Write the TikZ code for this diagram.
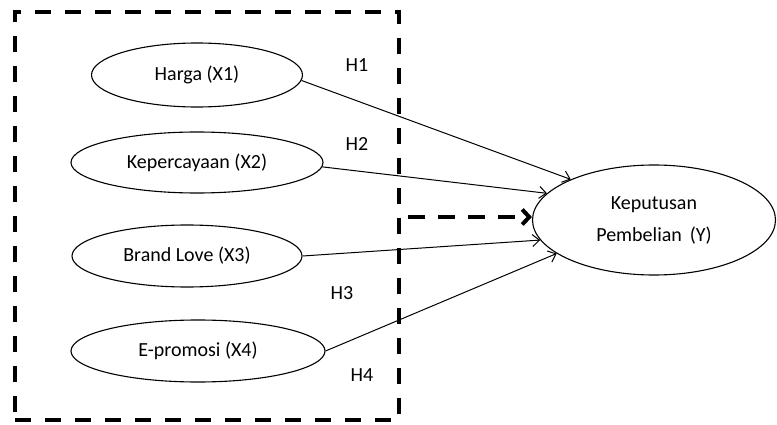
\documentclass[tikz,border=0pt]{standalone}
\usepackage{fontspec}
\setmainfont{Carlito}
\usetikzlibrary{arrows.meta,shapes.geometric}
\begin{document}
\begin{tikzpicture}[x=1pt,y=-1pt,
  var/.style={ellipse,draw,line width=1.1pt,inner sep=0pt,font=\fontsize{20}{23}\selectfont},
  hyp/.style={font=\fontsize{20}{23}\selectfont,inner sep=0pt},
  link/.style={line width=1pt,-{Straight Barb[length=7pt,width=12pt]}},
  bigdash/.style={line width=4.5pt,dash pattern=on 16pt off 14pt},
]
\useasboundingbox (0,0) rectangle (777,425);
\node[draw,bigdash,minimum width=384pt,minimum height=408pt,inner sep=0pt] (frame) at (207,216) {};
\node[var,minimum width=211pt,minimum height=64pt] (x1) at (197,75) {Harga (X1)};
\node[var,minimum width=252pt,minimum height=61pt] (x2) at (197,162.5) {Kepercayaan (X2)};
\node[var,minimum width=230pt,minimum height=62pt] (x3) at (187,256) {Brand Love (X3)};
\node[var,minimum width=254pt,minimum height=62pt] (x4) at (198,351) {E-promosi (X4)};
\node[var,minimum width=243pt,minimum height=110pt,align=center] (y) at (654,220) {Keputusan\\[9pt]Pembelian \,(Y)};
\node[hyp] (h1) at (357,65) {H1};
\node[hyp] (h2) at (357,144) {H2};
\node[hyp] (h3) at (342,293) {H3};
\node[hyp] (h4) at (362,375) {H4};
\draw[link] (x1.-3) -- (y.154);
\draw[link] (x2.-2) -- (y.166);
\draw[link] (x3.east) -- (y.190);
\draw[link] (x4.east) -- (y.199);
\coordinate (ds) at (408,217);
\draw[line width=4pt,dash pattern=on 17pt off 13pt,-{Straight Barb[length=7pt,width=15pt]}] (ds) -- (y.west |- ds);
\end{tikzpicture}
\end{document}
